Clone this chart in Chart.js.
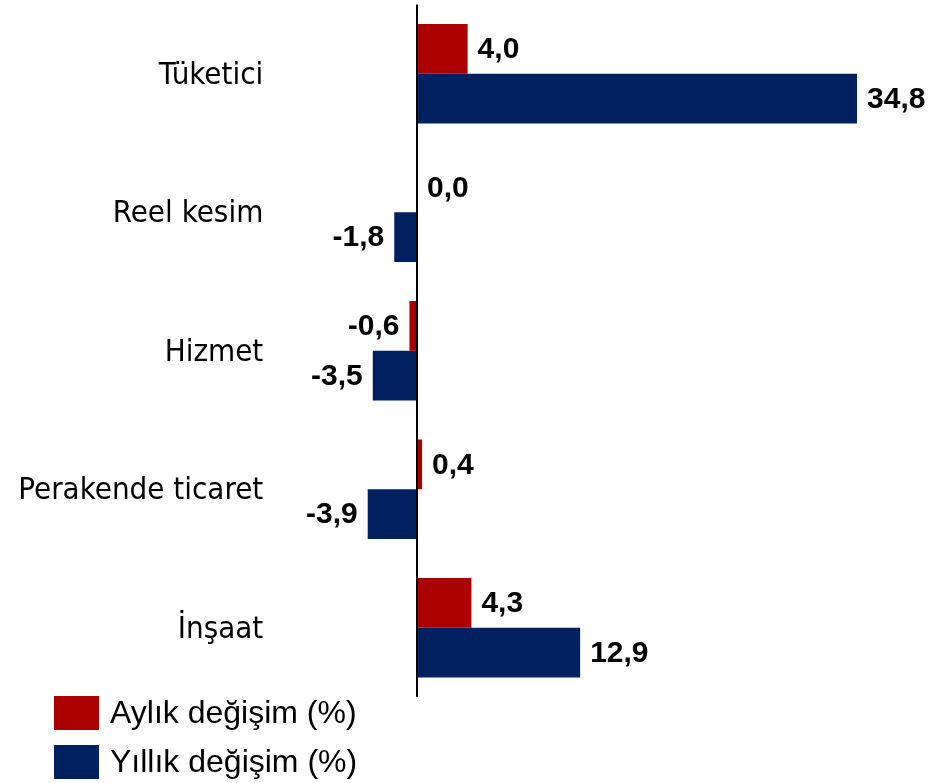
<!DOCTYPE html>
<html>
<head>
<meta charset="utf-8">
<script src="https://cdn.jsdelivr.net/npm/chart.js@4/dist/chart.umd.min.js"></script>
<style>
  html, body { margin: 0; padding: 0; background: #fff; }
  #wrap { width: 935px; height: 783px; position: relative; }
</style>
</head>
<body>
<div id="wrap"><canvas id="c" width="935" height="783"></canvas></div>
<script>
const categories = ['Tüketici', 'Reel kesim', 'Hizmet', 'Perakende ticaret', 'İnşaat'];
const monthlyChange = [4.0, 0.0, -0.6, 0.4, 4.3];
const annualChange = [34.8, -1.8, -3.5, -3.9, 12.9];
const seriesNames = ['Aylık değişim (%)', 'Yıllık değişim (%)'];
const seriesColors = ['#AA0000', '#00205F'];

function fmt(v) { return v.toFixed(1).replace('.', ','); }

const valueLabels = {
  id: 'valueLabels',
  afterDatasetsDraw(chart) {
    const ctx = chart.ctx;
    ctx.save();
    ctx.font = 'bold 30px "Liberation Sans", Arial, sans-serif';
    ctx.fillStyle = '#000';
    ctx.textBaseline = 'middle';
    chart.data.datasets.forEach((ds, i) => {
      const meta = chart.getDatasetMeta(i);
      meta.data.forEach((bar, j) => {
        const v = ds.data[j];
        if (v >= 0) { ctx.textAlign = 'left'; ctx.fillText(fmt(v), bar.x + 10, bar.y + 1); }
        else { ctx.textAlign = 'right'; ctx.fillText(fmt(v), bar.x - 10, bar.y + 1); }
      });
    });
    ctx.restore();
  }
};

const customLegend = {
  id: 'customLegend',
  afterDraw(chart) {
    const ctx = chart.ctx;
    ctx.save();
    ctx.font = '32px "Liberation Sans", Arial, sans-serif';
    ctx.textBaseline = 'middle';
    ctx.textAlign = 'left';
    chart.data.datasets.forEach((ds, i) => {
      const y = 696 + i * 49;
      ctx.fillStyle = ds.backgroundColor;
      ctx.fillRect(54, y, 45, 34);
      ctx.fillStyle = '#000';
      ctx.fillText(ds.label, 110, y + 18);
    });
    ctx.restore();
  }
};

new Chart(document.getElementById('c'), {
  type: 'bar',
  data: {
    labels: categories,
    datasets: [
      { label: seriesNames[0], data: monthlyChange, backgroundColor: seriesColors[0], categoryPercentage: 0.718, barPercentage: 1.0 },
      { label: seriesNames[1], data: annualChange, backgroundColor: seriesColors[1], categoryPercentage: 0.718, barPercentage: 1.0 }
    ]
  },
  options: {
    indexAxis: 'y',
    responsive: false,
    animation: false,
    events: [],
    layout: { padding: { top: 4.5, bottom: 86, left: 0, right: 12.2 } },
    plugins: { legend: { display: false }, tooltip: { enabled: false } },
    scales: {
      x: {
        min: -12, max: 40,
        ticks: { display: false },
        border: { display: false },
        grid: {
          drawTicks: false,
          color: (c) => c.tick && c.tick.value === 0 ? '#000' : 'rgba(0,0,0,0)',
          lineWidth: (c) => c.tick && c.tick.value === 0 ? 2 : 0
        },
        afterFit(scale) { scale.height = 0; scale.paddingLeft = 0; scale.paddingRight = 0; }
      },
      y: {
        border: { display: false },
        grid: { display: false, drawTicks: false },
        ticks: {
          padding: 2,
          labelOffset: 2,
          color: '#000',
          font: { family: '"DejaVu Sans Condensed", "DejaVu Sans", sans-serif', size: 31 }
        },
        afterFit(scale) { scale.width = 265.3; scale.paddingTop = 0; scale.paddingBottom = 0; }
      }
    }
  },
  plugins: [valueLabels, customLegend]
});
</script>
</body>
</html>
